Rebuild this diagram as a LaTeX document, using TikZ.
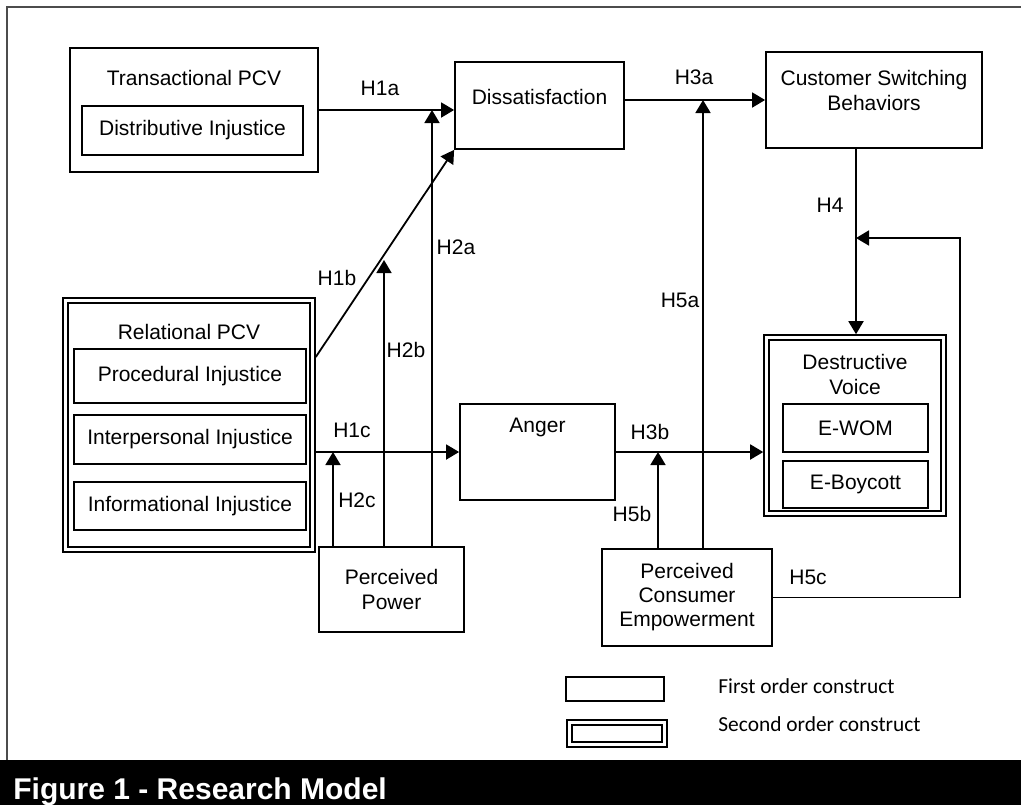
\documentclass[tikz,border=0pt]{standalone}
\usepackage{fontspec}
\setmainfont{Liberation Sans}
\newfontfamily\legendfont{Carlito}
\usetikzlibrary{arrows.meta,calc,positioning}
\tikzset{%
	construct/.style = {draw, rectangle, line width=0.9pt, inner sep=0pt, text centered},
	second/.style    = {draw, rectangle, line width=0.9pt, double, double distance=1.5pt, outer sep=1.65pt, inner sep=0pt},
	arrow/.style     = {line width=0.9pt, -{Triangle[length=6.5pt,width=7.5pt]}},
	hyp/.style       = {inner sep=0pt},
	txt/.style       = {inner sep=0pt, align=center},
}

\begin{document}
\begin{tikzpicture}[x=0.5pt, y=-0.5pt, every node/.style={font=\fontsize{10.5}{12.5}\selectfont}]
	\useasboundingbox (0,0) rectangle (1021,805);
	% frame and caption bar
	\draw[line width=0.6pt, black!70] (7,760) -- (7,7) -- (1021,7);
	\fill[black] (0,760) rectangle (1021,805);
	\node[anchor=base west, inner sep=0pt, text=white, font=\fontsize{15}{18}\selectfont\bfseries] (title) at (13,799) {Figure 1 - Research Model};

	% constructs
	\node[construct, minimum width=124pt, minimum height=62pt] (trans) at (194,110) {};
	\node[txt] (transtxt) at (194,78) {Transactional PCV};
	\node[construct, minimum width=110.5pt, minimum height=24.5pt] (distr) at (192.5,130.5) {Distributive Injustice};

	\node[construct, minimum width=84.5pt, minimum height=43.5pt] (dis) at (539.5,105.5) {};
	\node[txt] (distxt) at (539.5,97) {Dissatisfaction};

	\node[construct, minimum width=108pt, minimum height=48pt] (cust) at (874,100) {};
	\node[txt] (custtxt) at (874,90) {Customer Switching\\Behaviors};

	\node[second, minimum width=123.5pt, minimum height=124.5pt] (rel) at (189,425) {};
	\node[txt] (reltxt) at (189,332) {Relational PCV};
	\node[construct, minimum width=116pt, minimum height=27pt] (proc) at (190,376) {Procedural Injustice};
	\node[construct, minimum width=116pt, minimum height=24.5pt] (inter) at (190,439.5) {Interpersonal Injustice};
	\node[construct, minimum width=116pt, minimum height=24pt] (info) at (190,506) {Informational Injustice};

	\node[construct, minimum width=77.5pt, minimum height=48pt] (anger) at (537.5,452) {};
	\node[txt] (angertxt) at (537.5,427) {Anger};

	\node[second, minimum width=88.5pt, minimum height=88pt] (dv) at (855,425.5) {};
	\node[txt] (dvtxt) at (855,374.5) {Destructive\\Voice};
	\node[construct, minimum width=72.5pt, minimum height=24pt] (ewom) at (855.5,428) {E-WOM};
	\node[construct, minimum width=72.5pt, minimum height=23.5pt] (eboy) at (855.5,484.5) {E-Boycott};

	\node[construct, minimum width=72.5pt, minimum height=42.5pt, align=center] (pow) at (391.5,589.5) {Perceived\\Power};
	\node[construct, minimum width=85pt, minimum height=48.5pt, align=center, font=\fontsize{10.5}{12}\selectfont] (pce) at (687,597.5) {Perceived\\Consumer\\Empowerment};

	% junctions on the paths
	\coordinate (j2a) at (432,110);
	\coordinate (j2b) at (384,260);
	\coordinate (j2c) at (333,452);
	\coordinate (j5a) at (703,100);
	\coordinate (j5b) at (658,452);
	\coordinate (j5c) at (856,238);

	% hypotheses
	\draw[arrow] (trans.east) -- (trans.east -| dis.west);
	\draw[arrow] (rel.east |- 0,357) -- (dis.south west);
	\draw[arrow] (rel.east |- anger.west) -- (anger.west);
	\draw[arrow] (pow.north -| j2a) -- (j2a);
	\draw[arrow] (pow.north -| j2b) -- (j2b);
	\draw[arrow] (pow.north -| j2c) -- (j2c);
	\draw[arrow] (dis.east |- cust.west) -- (cust.west);
	\draw[arrow] (anger.east) -- (anger.east -| dv.west);
	\draw[arrow] (cust.south -| j5c) -- (dv.north -| j5c);
	\draw[arrow] (pce.north -| j5a) -- (j5a);
	\draw[arrow] (pce.north -| j5b) -- (j5b);
	\draw[arrow] (pce.east) -- ++(187,0) |- (j5c);

	\node[hyp] (h1a) at (380,88) {H1a};
	\node[hyp] (h1b) at (337,278) {H1b};
	\node[hyp] (h1c) at (352,430) {H1c};
	\node[hyp] (h2a) at (456,247) {H2a};
	\node[hyp] (h2b) at (406,350) {H2b};
	\node[hyp] (h2c) at (357,500) {H2c};
	\node[hyp] (h3a) at (694,77) {H3a};
	\node[hyp] (h3b) at (650,432) {H3b};
	\node[hyp] (h4) at (830,205) {H4};
	\node[hyp] (h5a) at (680,300) {H5a};
	\node[hyp] (h5b) at (632,514) {H5b};
	\node[hyp] (h5c) at (808,577) {H5c};

	% legend
	\node[construct, minimum width=49pt, minimum height=12pt] (first) at (615,689) {};
	\node[second, minimum width=47.5pt, minimum height=11pt] (sec) at (617,733.5) {};
	\node[anchor=west, inner sep=0pt, font=\legendfont\fontsize{10.7}{12.5}\selectfont] (firsttxt) at (718,686) {First order construct};
	\node[anchor=west, inner sep=0pt, font=\legendfont\fontsize{10.7}{12.5}\selectfont] (sectxt) at (718,724) {Second order construct};
\end{tikzpicture}
\end{document}
